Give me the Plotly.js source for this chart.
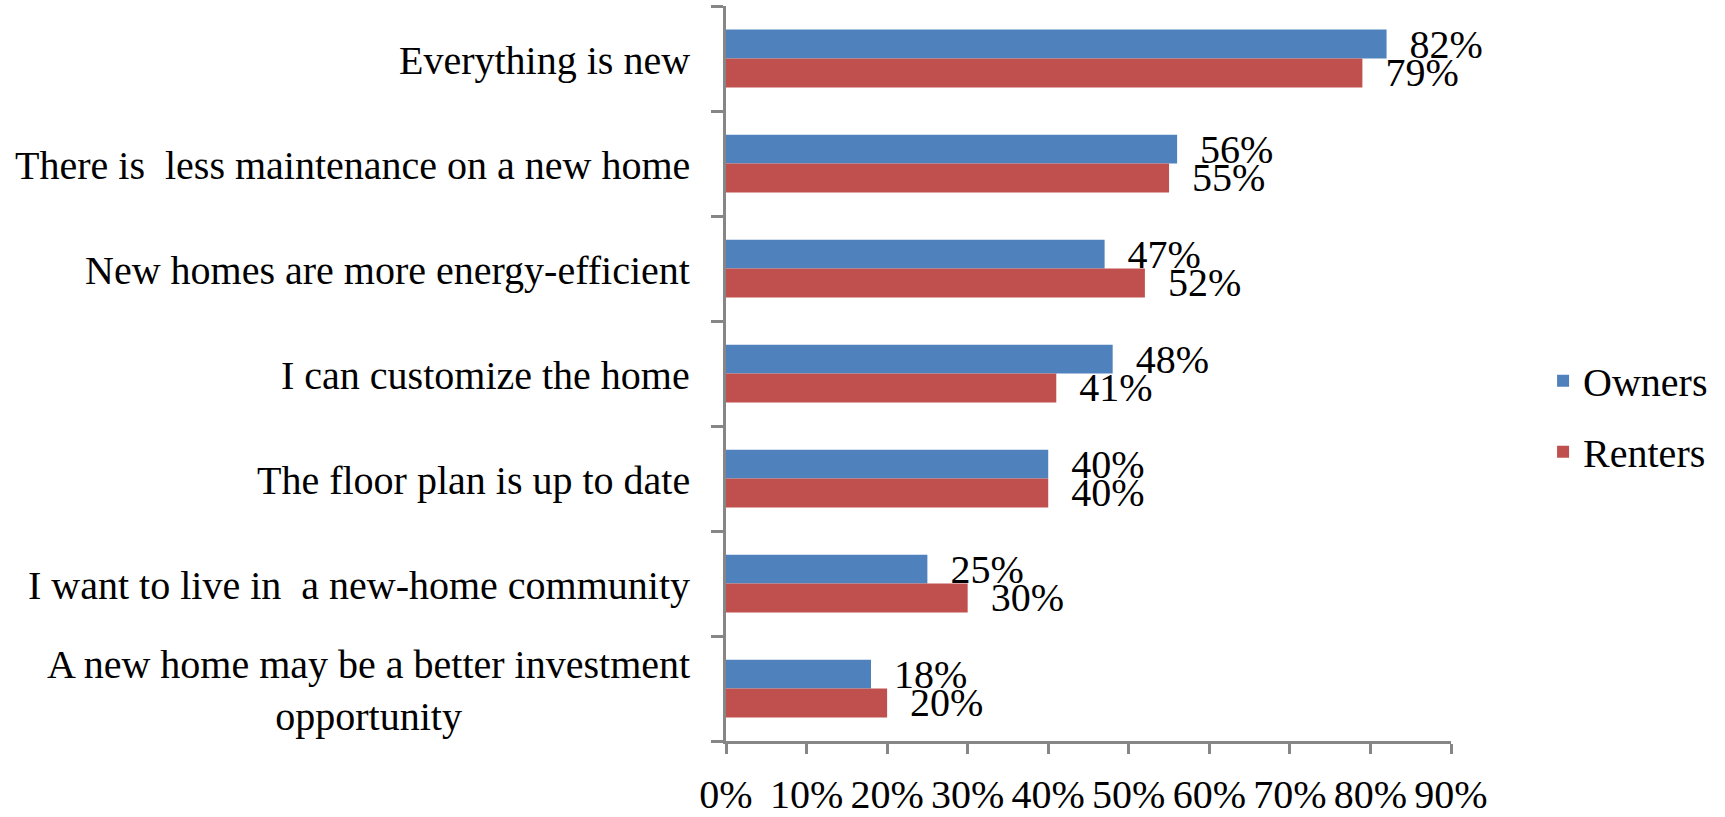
<!DOCTYPE html>
<html>
<head>
<meta charset="utf-8">
<script src="https://cdn.plot.ly/plotly-3.0.1.min.js"></script>
<style>html,body{margin:0;padding:0;background:#fff;}#chart{width:1725px;height:817px;}</style>
</head>
<body>
<div id="chart"></div>
<script>
const categories = [
  "Everything is new",
  "There is\u00a0 less maintenance on a new home",
  "New homes are more energy-efficient",
  "I can customize the home",
  "The floor plan is up to date",
  "I want to live in\u00a0 a new-home community",
  "A new home may be a better investment<br>opportunity"
];
const owners = [82, 56, 47, 48, 40, 25, 18];
const renters = [79, 55, 52, 41, 40, 30, 20];
const seriesNames = ["Owners", "Renters"];
const xTickVals = [0, 10, 20, 30, 40, 50, 60, 70, 80, 90];

const FONT = "Liberation Serif, Times New Roman, serif";
const axisColor = "#868686";

function barTrace(name, vals, color, group) {
  return {
    type: "bar", orientation: "h", name: name,
    y: categories.map((c, i) => i), x: vals,
    marker: {color: color},
    text: vals.map(v => "\u00a0\u00a0" + v + "%"),
    textposition: "outside",
    constraintext: "none",
    cliponaxis: false,
    textfont: {family: FONT, size: 40, color: "#000"},
    legendgroup: group,
    hoverinfo: "x+name"
  };
}

const data = [
  barTrace(seriesNames[0], owners, "#4F81BD", "g1"),
  barTrace(seriesNames[1], renters, "#C0504D", "g2")
];

const annotations = categories.map((c, i) => ({
  xref: "paper", yref: "y", x: 0, y: i,
  xanchor: "right", yanchor: "middle", xshift: -34, yshift: -2,
  text: c, showarrow: false, align: "center",
  font: {family: FONT, size: 40, color: "#000"}
}));

const layout = {
  width: 1725, height: 817,
  margin: {l: 726, r: 274, t: 6, b: 76},
  paper_bgcolor: "#fff", plot_bgcolor: "#fff",
  barmode: "group", bargap: 0.45, bargroupgap: 0,
  font: {family: FONT, size: 40, color: "#000"},
  showlegend: true,
  legend: {
    x: 1.127, xanchor: "left", y: 0.442, yanchor: "middle",
    traceorder: "grouped", tracegroupgap: 16,
    font: {family: FONT, size: 40, color: "#000"},
    bgcolor: "rgba(0,0,0,0)"
  },
  xaxis: {
    range: [0, 90], tickvals: xTickVals, ticktext: xTickVals.map(v => v + "%"),
    showgrid: false, zeroline: false,
    showline: true, linecolor: axisColor, linewidth: 3,
    ticks: "outside", ticklen: 10, tickwidth: 3, tickcolor: axisColor,
    ticklabelstandoff: 6,
    tickfont: {family: FONT, size: 40, color: "#000"}
  },
  yaxis: {
    type: "linear", range: [6.5, -0.5],
    tickvals: [-0.5, 0.5, 1.5, 2.5, 3.5, 4.5, 5.5, 6.5],
    showticklabels: false,
    showgrid: false, zeroline: false,
    showline: true, linecolor: axisColor, linewidth: 3,
    ticks: "outside", ticklen: 12, tickwidth: 3, tickcolor: axisColor
  },
  annotations: annotations
};

Plotly.newPlot("chart", data, layout, {displayModeBar: false, staticPlot: true});
</script>
</body>
</html>
